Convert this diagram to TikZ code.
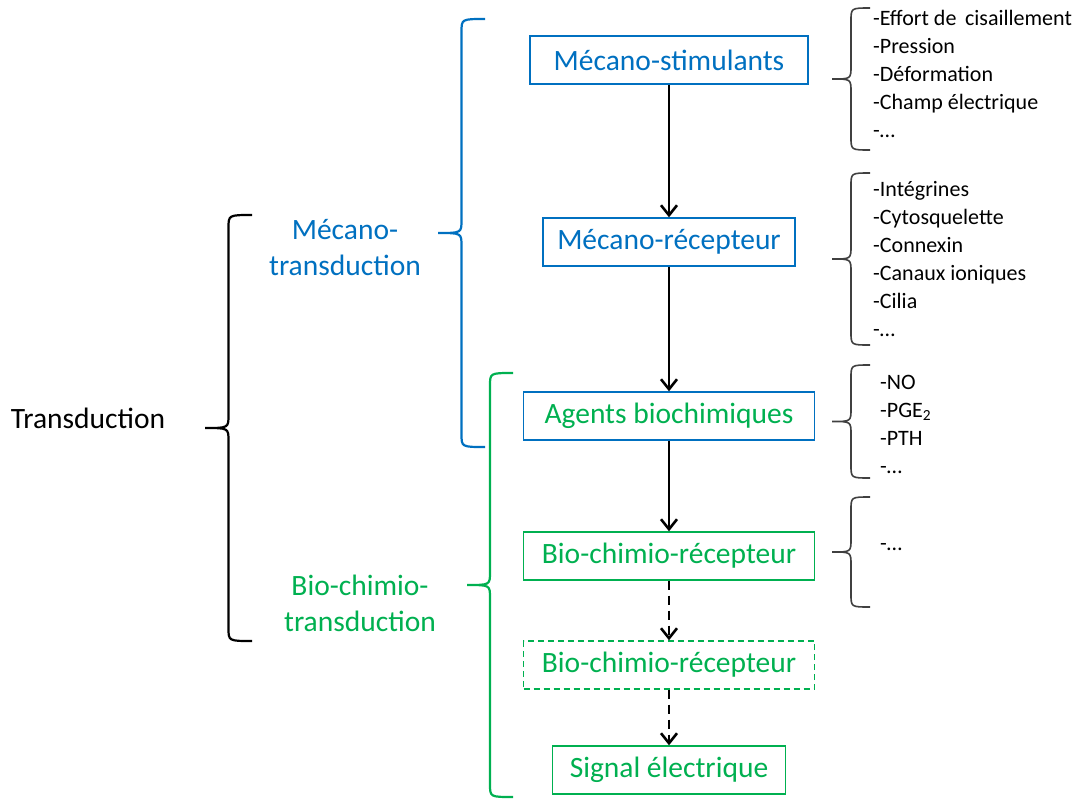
\documentclass[tikz,border=0pt]{standalone}
\usepackage{fontspec}
\setmainfont{Carlito}
\usetikzlibrary{arrows.meta, positioning}
\definecolor{mecablue}{RGB}{0, 112, 192}
\definecolor{biogreen}{RGB}{0, 176, 80}
\definecolor{listgrey}{RGB}{64, 64, 64}

% brace opening to the right: [style]{arm x}{top y}{bottom y}{width}
\newcommand{\curlybrace}[5][]{%
  \draw[#1] (#2,#3) .. controls ({#2-#5/2},#3) .. ({#2-#5/2},{#3+13})
    -- ({#2-#5/2},{(#3+#4)/2-13}) .. controls ({#2-#5/2},{(#3+#4)/2}) .. ({#2-#5},{(#3+#4)/2})
    .. controls ({#2-#5/2},{(#3+#4)/2}) .. ({#2-#5/2},{(#3+#4)/2+13})
    -- ({#2-#5/2},{#4-13}) .. controls ({#2-#5/2},#4) .. (#2,#4);}

\begin{document}
\begin{tikzpicture}[x=1pt, y=-1pt,
    box/.style={draw=#1, line width=1.4pt, minimum height=48pt, inner sep=0pt,
      font=\fontsize{29.5}{36}\selectfont},
    flow/.style={-{Straight Barb[length=10pt, width=16pt]}, line width=2.6pt},
    bracel/.style={line width=2.2pt},
    braces/.style={line width=1.6pt, listgrey},
    listtxt/.style={anchor=west, align=left, inner sep=0pt, text=black,
      font=\fontsize{22}{28}\selectfont},
    grp/.style={align=center, font=\fontsize{29.5}{36}\selectfont}]
  \useasboundingbox (0,0) rectangle (1085,801);

  % Chain of boxes
  \node[box=mecablue, text=mecablue, minimum width=278pt] (stim) at (669,60) {Mécano-stimulants};
  \node[box=mecablue, text=mecablue, minimum width=252pt] (recep) at (669,242) {Mécano-récepteur};
  \node[box=mecablue, text=biogreen, minimum width=291pt] (agents) at (669,416) {Agents biochimiques};
  \node[box=biogreen, text=biogreen, minimum width=291pt] (biorec) at (669,556) {Bio-chimio-récepteur};
  \node[box=biogreen, text=biogreen, minimum width=291pt, dash pattern=on 6pt off 4pt] (biorecb) at (669,665) {Bio-chimio-récepteur};
  \node[box=biogreen, text=biogreen, minimum width=233pt] (signal) at (669,770) {Signal électrique};

  % Arrows
  \draw[flow] (stim) -- (recep);
  \draw[flow] (recep) -- (agents);
  \draw[flow] (agents) -- (biorec);
  \draw[flow, dash pattern=on 9pt off 6pt] (biorec) -- (biorecb);
  \draw[flow, dash pattern=on 9pt off 6pt] (biorecb) -- (signal);

  % Left braces and group names
  \node[grp] (trans) at (88,418) {Transduction};
  \curlybrace[bracel]{252}{215}{641}{47}
  \node[grp, text=mecablue] (mecatrans) at (345,248) {Mécano-\\transduction};
  \curlybrace[bracel, mecablue]{485}{19}{447}{47}
  \node[grp, text=biogreen] (biotrans) at (360,603) {Bio-chimio-\\transduction};
  \curlybrace[bracel, biogreen]{513}{373}{797}{46}

  % Right braces and lists
  \curlybrace[braces]{870}{8}{150}{38}
  \node[listtxt] (liststim) at (873,74) {-Effort de\, cisaillement\\-Pression\\-Déformation\\-Champ électrique\\-…};
  \curlybrace[braces]{870}{173}{345}{38}
  \node[listtxt] (listrecep) at (873,259) {-Intégrines\\-Cytosquelette\\-Connexin\\-Canaux ioniques\\-Cilia\\-…};
  \curlybrace[braces]{870}{365}{478}{38}
  \node[listtxt] (listagents) at (880,424) {-NO\\-PGE\textsubscript{2}\\-PTH\\-…};
  \curlybrace[braces]{870}{497}{607}{38}
  \node[listtxt] (listbiorec) at (880,547) {-…};
\end{tikzpicture}
\end{document}
